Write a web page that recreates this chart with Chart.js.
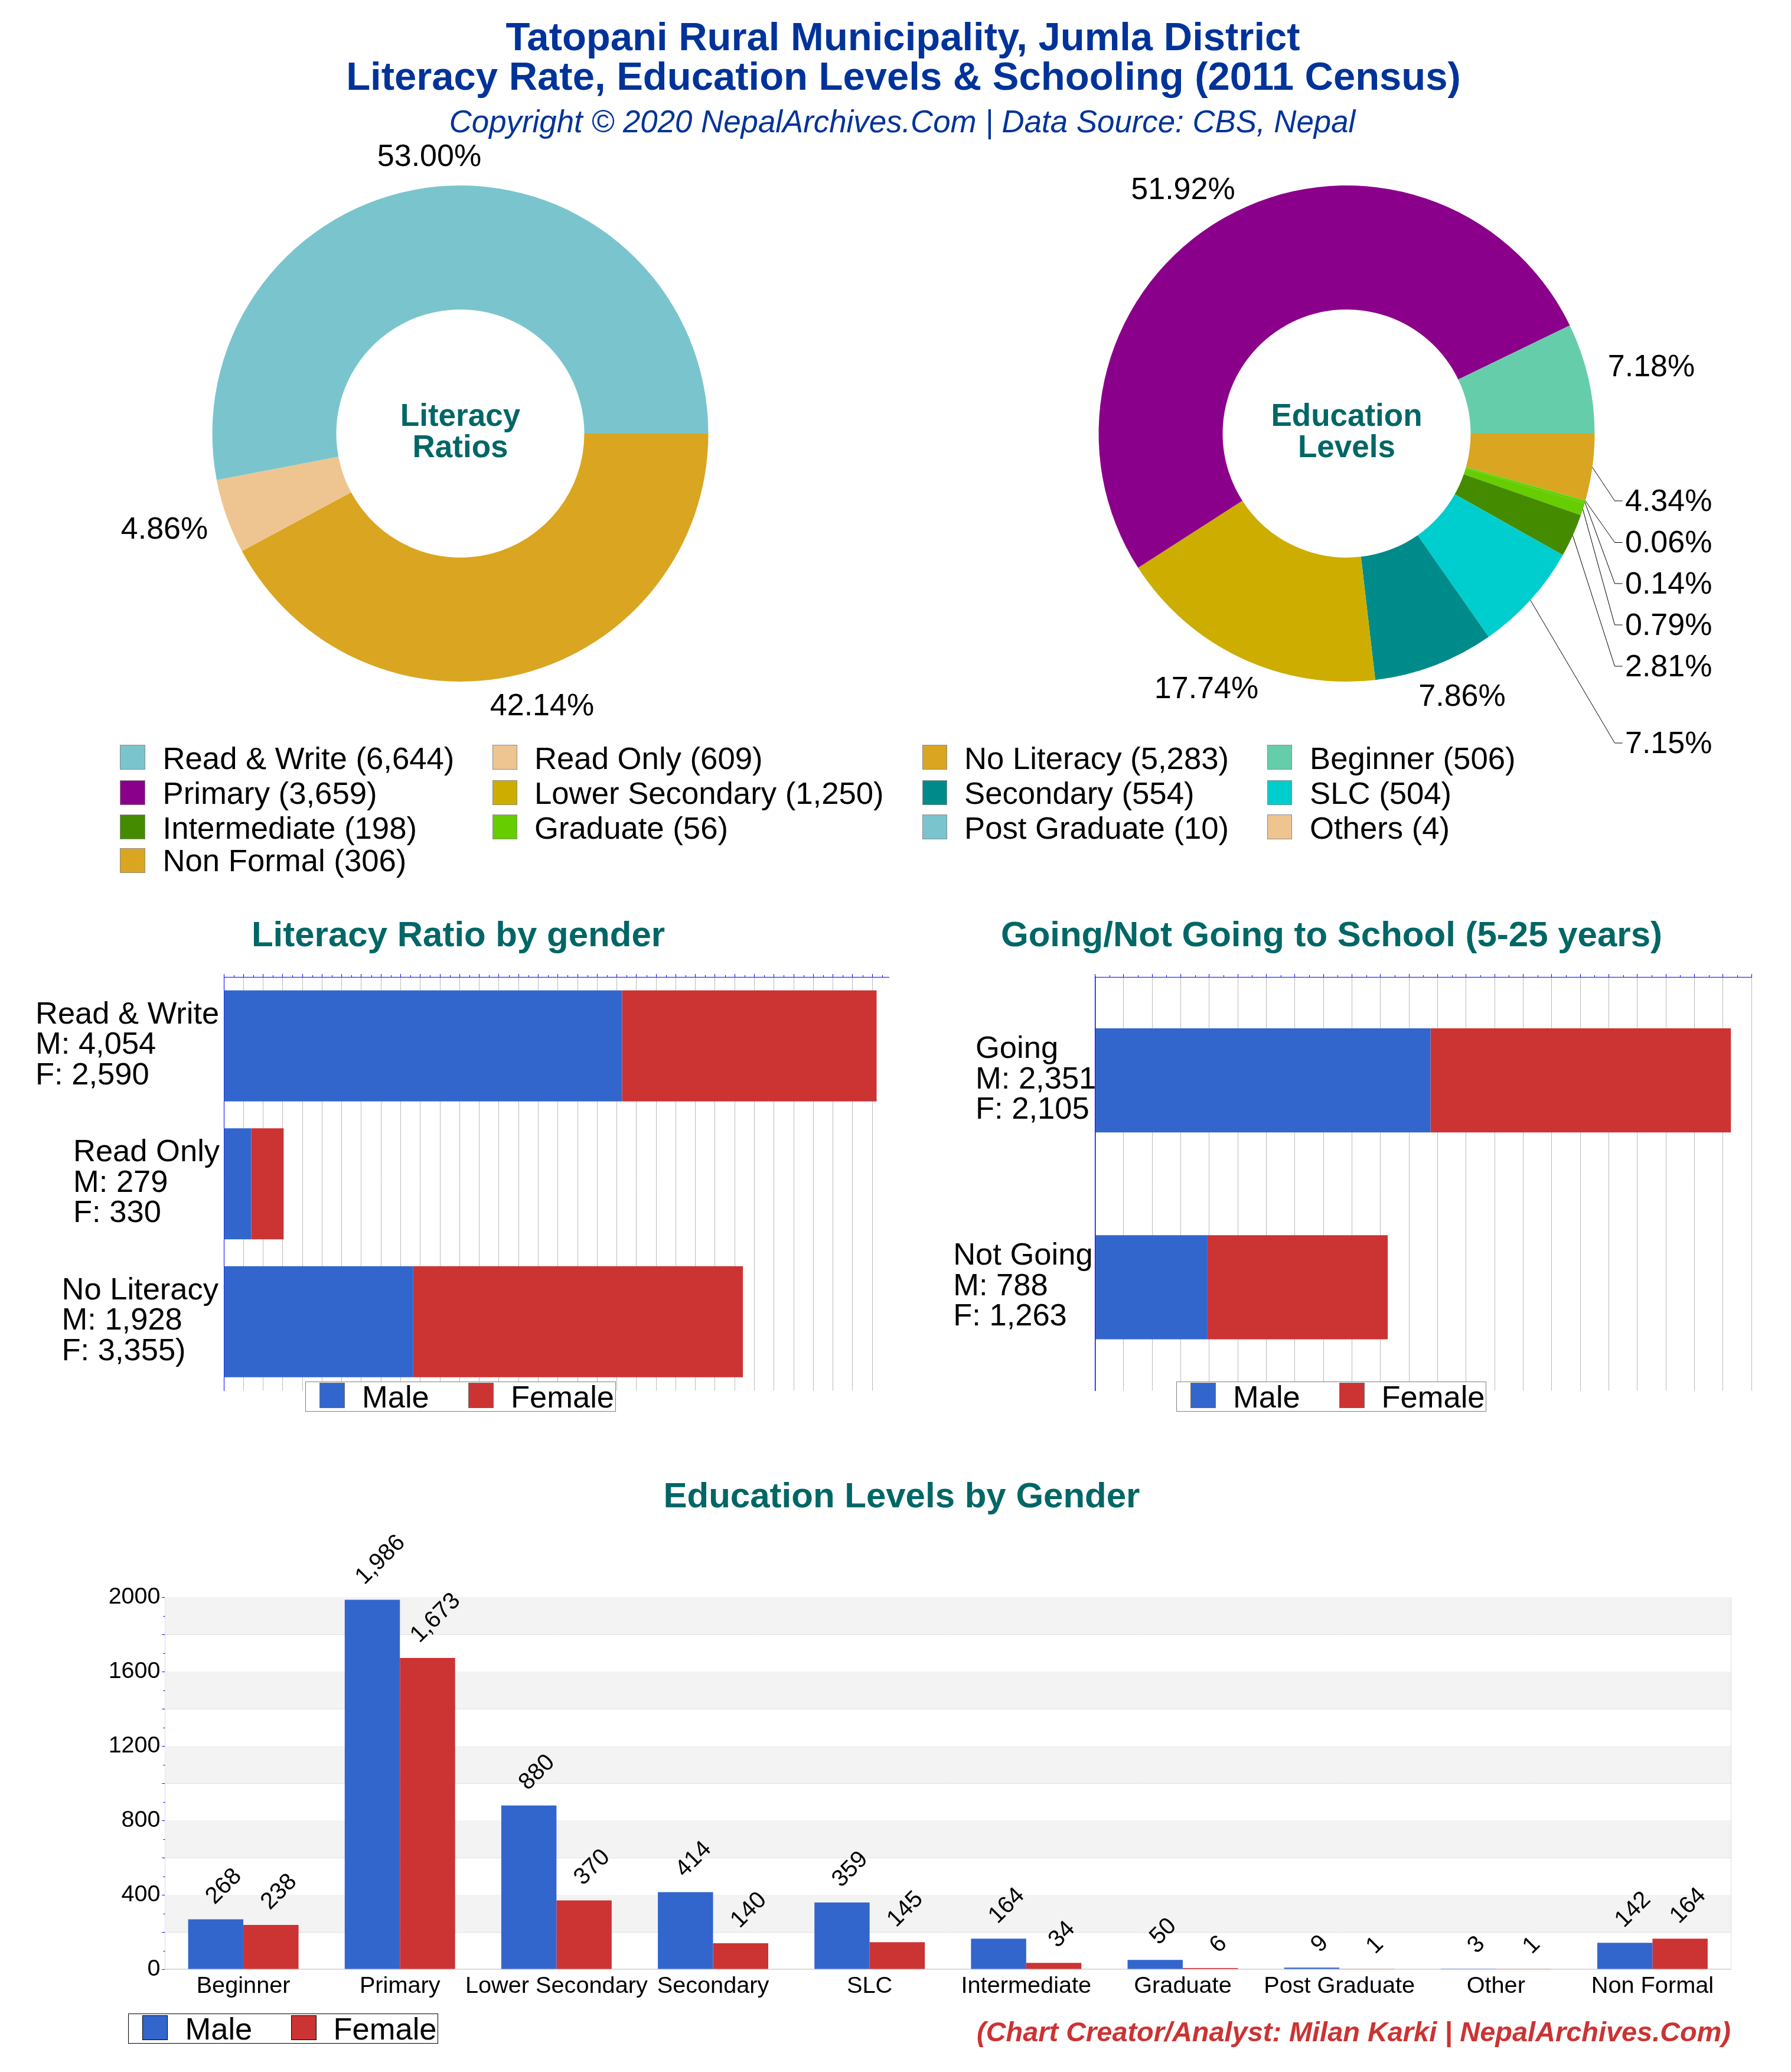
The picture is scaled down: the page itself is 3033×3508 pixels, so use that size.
<!DOCTYPE html>
<html><head><meta charset="utf-8">
<script src="https://cdn.jsdelivr.net/npm/chart.js@4"></script>
<style>
html,body{margin:0;padding:0;background:#fff}
#page{position:relative;width:3033px;height:3508px;overflow:hidden;background:#fff;font-family:'Liberation Sans',Arial,sans-serif}
canvas{position:absolute}
.t{position:absolute;white-space:nowrap;z-index:5}
.b{position:absolute;z-index:4}
</style></head><body><div id="page"></div>
<script>
// ---------- data ----------
const literacyCategories = ['Read & Write','Read Only','No Literacy'];
const literacyTotals = [6644,609,5283];
const literacyPercents = ['53.00%','4.86%','42.14%'];
const literacyMale = [4054,279,1928];
const literacyFemale = [2590,330,3355];
const literacyTickLabels = [['Read & Write','M: 4,054','F: 2,590'],['Read Only','M: 279','F: 330'],['No Literacy','M: 1,928','F: 3,355)']];

const educationCategories = ['Beginner','Primary','Lower Secondary','Secondary','SLC','Intermediate','Graduate','Post Graduate','Others','Non Formal'];
const educationTotals = [506,3659,1250,554,504,198,56,10,4,306];
const educationPercents = ['7.18%','51.92%','17.74%','7.86%','7.15%','2.81%','0.79%','0.14%','0.06%','4.34%'];

const schoolCategories = ['Going','Not Going'];
const schoolMale = [2351,788];
const schoolFemale = [2105,1263];
const schoolTickLabels = [['Going','M: 2,351','F: 2,105'],['Not Going','M: 788','F: 1,263']];

const genderCategories = ['Beginner','Primary','Lower Secondary','Secondary','SLC','Intermediate','Graduate','Post Graduate','Other','Non Formal'];
const genderMale = [268,1986,880,414,359,164,50,9,3,142];
const genderFemale = [238,1673,370,140,145,34,6,1,1,164];

// ---------- style ----------
const FONT = "'Liberation Sans', Arial, sans-serif";
const C = {male:'#3366CC',female:'#CC3333',title:'#003399',teal:'#006666',blue:'#0000FF',grid:'#BBBBBB'};
const literacyColors = ['#7AC5CD','#EEC591','#DAA520'];
const educationColors = ['#66CDAA','#8B008B','#CDAD00','#008B8B','#00CDCD','#458B00','#66CD00','#7AC5CD','#EEC591','#DAA520'];
// in the ring the two tiniest slices do not show their own colour: the green one covers them
const educationRingColors = ['#66CDAA','#8B008B','#CDAD00','#008B8B','#00CDCD','#458B00','#66CD00','#66CD00','#66CD00','#DAA520'];

const page = document.getElementById('page');
function text(s,o){
  const d=document.createElement('div');d.className='t';d.textContent=s;
  const lh=o.size*1.2;
  d.style.cssText+=`font-size:${o.size}px;line-height:${lh}px;top:${o.cy-lh/2}px;color:${o.color||'#000'};font-weight:${o.bold?'bold':'normal'};font-style:${o.italic?'italic':'normal'};`;
  if(o.center!==undefined){d.style.left=o.center+'px';d.style.transform='translateX(-50%)';}
  else if(o.right!==undefined){d.style.right=(3033-o.right)+'px';}
  else d.style.left=o.left+'px';
  page.appendChild(d);
}
function box(x0,y0,x1,y1,fill,border,bw){
  const d=document.createElement('div');d.className='b';
  d.style.cssText+=`left:${x0}px;top:${y0}px;width:${x1-x0}px;height:${y1-y0}px;background:${fill};box-sizing:border-box;border:${bw||1}px solid ${border};`;
  page.appendChild(d);return d;
}
function mkCanvas(l,t,w,h){
  const c=document.createElement('canvas');c.width=w;c.height=h;c.style.left=l+'px';c.style.top=t+'px';c.style.width=w+'px';c.style.height=h+'px';page.appendChild(c);return c.getContext('2d');
}

// ---------- titles ----------
text('Tatopani Rural Municipality, Jumla District',{size:67,bold:true,color:C.title,center:1529,cy:62});
text('Literacy Rate, Education Levels & Schooling (2011 Census)',{size:67,bold:true,color:C.title,center:1530,cy:129});
text('Copyright © 2020 NepalArchives.Com | Data Source: CBS, Nepal',{size:52.8,italic:true,color:C.title,center:1528,cy:206});
text('Literacy Ratio by gender',{size:60,bold:true,color:C.teal,center:776,cy:1582});
text('Going/Not Going to School (5-25 years)',{size:60,bold:true,color:C.teal,center:2255,cy:1582});
text('Education Levels by Gender',{size:60,bold:true,color:C.teal,center:1527,cy:2532});
text('(Chart Creator/Analyst: Milan Karki | NepalArchives.Com)',{size:46.9,bold:true,italic:true,color:C.female,right:2931,cy:3440});

// ---------- donut legend ----------
const legendItems = [];
literacyCategories.forEach((n,i)=>legendItems.push([n+' ('+literacyTotals[i].toLocaleString('en-US')+')',literacyColors[i]]));
educationCategories.forEach((n,i)=>legendItems.push([n+' ('+educationTotals[i].toLocaleString('en-US')+')',educationColors[i]]));
const legendCols = [[203,275.5],[833.5,905],[1561.5,1633],[2145.5,2218]];
const legendRows = [1282,1341.5,1400,1456.5];
const legendTextRows = [1283.5,1343,1401.5,1457];
legendItems.forEach((item,k)=>{
  const r=Math.floor(k/4),c=k%4,[sx,tx]=legendCols[c],cy=legendRows[r];
  box(sx,cy-21,sx+42.5,cy+21,item[1],'#8a8a8a');
  text(item[0],{size:52.7,left:tx,cy:legendTextRows[r]});
});

// ---------- plugins ----------
const donutPlugin = {
  id:'donutLabels',
  afterDraw(chart,args,o){
    const ctx=chart.ctx,meta=chart.getDatasetMeta(0),n=meta.data.length;
    ctx.save();
    ctx.font=`52px ${FONT}`;ctx.fillStyle='#000';ctx.textBaseline='alphabetic';
    o.texts.forEach((s,i)=>{
      const arc=meta.data[n-1-i],p=o.places[i];
      const mid=(arc.startAngle+arc.endAngle)/2;
      if(p.elbow){
        const x0=arc.x+arc.outerRadius*Math.cos(mid),y0=arc.y+arc.outerRadius*Math.sin(mid);
        ctx.strokeStyle='#000';ctx.lineWidth=1;ctx.beginPath();ctx.moveTo(x0,y0);
        ctx.lineTo(p.elbow-o.ox,p.y-o.oy);ctx.lineTo(p.elbow+13-o.ox,p.y-o.oy);ctx.stroke();
        ctx.textAlign='left';ctx.fillText(s,p.x-o.ox,p.y-o.oy+16.5);
      }else{
        ctx.textAlign='center';ctx.fillText(s,p.x-o.ox,p.y-o.oy+16.5);
      }
    });
    const a0=meta.data[0];
    ctx.font=`bold 53px ${FONT}`;ctx.fillStyle=C.teal;ctx.textAlign='center';
    ctx.fillText(o.center[0],a0.x,a0.y-30+16.5);
    ctx.fillText(o.center[1],a0.x,a0.y+23+16.5);
    ctx.restore();
  }
};
function donut(l,t,w,h,padL,padT,labels,totals,colors,texts,places,center){
  new Chart(mkCanvas(l,t,w,h),{
    type:'doughnut',
    data:{labels:[...labels].reverse(),datasets:[{data:[...totals].reverse(),backgroundColor:[...colors].reverse(),borderWidth:0}]},
    options:{responsive:false,animation:false,devicePixelRatio:1,cutout:'50%',rotation:90,
      layout:{padding:{left:padL,top:padT,right:w-padL-840,bottom:h-padT-840}},
      plugins:{legend:{display:false},tooltip:{enabled:false},donutLabels:{texts,places,center,ox:l,oy:t}}},
    plugins:[donutPlugin]
  });
}
donut(0,100,1516,1268,359.5,214,literacyCategories,literacyTotals,literacyColors,literacyPercents,
  [{x:727,y:264},{x:278.5,y:895},{x:918,y:1194}],['Literacy','Ratios']);
const ex=2752,elb=2734.5;
donut(1516,100,1517,1268,344.5,214,educationCategories,educationTotals,educationRingColors,educationPercents,
  [{x:2796.5,y:620},{x:2003.5,y:320},{x:2043,y:1165},{x:2476,y:1178},
   {x:ex,y:1258,elbow:elb},{x:ex,y:1128,elbow:elb},{x:ex,y:1058,elbow:elb},{x:ex,y:988,elbow:elb},{x:ex,y:918.5,elbow:elb},{x:ex,y:848,elbow:elb}],['Education','Levels']);

const stackLabelPlugin = {
  id:'stackLabels',
  afterDraw(chart,args,o){
    const ctx=chart.ctx,y=chart.scales.y,x=chart.scales.x;
    ctx.save();
    // minor tick marks on the value axis
    ctx.strokeStyle=C.blue;ctx.lineWidth=1;ctx.beginPath();
    for(let v=100;v<x.max;v+=200){const px=Math.round(x.getPixelForValue(v))+.5;ctx.moveTo(px,x.bottom-3);ctx.lineTo(px,x.bottom);}
    ctx.stroke();
    ctx.font=`52.5px ${FONT}`;ctx.fillStyle='#000';ctx.textAlign='left';ctx.textBaseline='alphabetic';
    o.lines.forEach((lines,i)=>{
      const c=y.getPixelForTick(i)-5;
      lines.forEach((s,k)=>ctx.fillText(s,o.lefts[i],c+(k-1)*51.5+18.5));
    });
    ctx.restore();
  }
};
function stacked(l,t,w,h,plotL,plotR,plotT,plotB,cats,male,female,max,barPct,lines,lefts,axisW){
  new Chart(mkCanvas(l,t,w,h),{
    type:'bar',
    data:{labels:cats,datasets:[
      {label:'Male',data:male,backgroundColor:C.male,barPercentage:barPct,categoryPercentage:1},
      {label:'Female',data:female,backgroundColor:C.female,barPercentage:barPct,categoryPercentage:1}]},
    options:{indexAxis:'y',responsive:false,animation:false,devicePixelRatio:1,
      layout:{padding:{left:0,top:0,right:w-(plotR-l),bottom:h-(plotB-t)}},
      scales:{
        x:{type:'linear',position:'top',stacked:true,min:0,max,
          ticks:{display:false,stepSize:200,includeBounds:false,autoSkip:false},
          afterBuildTicks(s){const a=[];for(let v=0;v<=s.max;v+=200)a.push({value:v});s.ticks=a;},
          grid:{color:C.grid,lineWidth:1,tickColor:C.blue,tickLength:5},
          border:{display:true,color:C.blue,width:1},
          afterFit(s){s.height=plotT-t;}},
        y:{stacked:true,ticks:{display:false},grid:{display:false},
          border:{display:true,color:C.blue,width:axisW},
          afterFit(s){s.width=plotL-l;}}
      },
      plugins:{legend:{display:false},tooltip:{enabled:false},stackLabels:{lines,lefts}}},
    plugins:[stackLabelPlugin]
  });
}
stacked(0,1600,1516,850,379,1505,1654,2354.5,literacyCategories,literacyMale,literacyFemale,6767,0.806,literacyTickLabels,[60,124,104.5],1);
stacked(1516,1600,1517,850,1854.5,2966,1654,2354.5,schoolCategories,schoolMale,schoolFemale,4600,0.503,schoolTickLabels,[136,98.2],1.5);

function genderLegend(x0,y0,x1,y1,border,sw,mt,fs,ft,swT,swB,size,cy,swBorder){
  box(x0,y0,x1,y1,'#fff',border);
  box(sw,swT,sw+43,swB,C.male,swBorder);
  box(fs,swT,fs+43,swB,C.female,swBorder);
  text('Male',{size,left:mt,cy});text('Female',{size,left:ft,cy});
}
genderLegend(517,2339,1042.5,2389.5,'#808080',541,613,793,865,2341,2384,52.5,2364,'#707070');
genderLegend(1992,2339,2517,2389.5,'#808080',2016,2088,2267.5,2339.5,2341,2384,52.5,2364,'#707070');
genderLegend(217,3409,742,3459.5,'#000',241,313.5,493,564.5,3411.5,3454,52.5,3434.5,'#000');

const barPlugin = {
  id:'barExtras',
  beforeDatasetsDraw(chart){
    const ctx=chart.ctx,y=chart.scales.y,a=chart.chartArea;
    ctx.save();ctx.fillStyle='#F3F3F3';
    for(let v=200;v<y.max;v+=400){
      const top=y.getPixelForValue(v+200),bot=y.getPixelForValue(v);
      ctx.fillRect(a.left,top,a.right-a.left,bot-top);
    }
    ctx.restore();
  },
  afterDatasetsDraw(chart){
    const ctx=chart.ctx,a=chart.chartArea,ys=chart.scales.y;
    ctx.save();
    ctx.strokeStyle='#DDDDDD';ctx.lineWidth=1;ctx.beginPath();
    ctx.moveTo(a.right+.5,a.top);ctx.lineTo(a.right+.5,a.bottom);ctx.stroke();
    ctx.strokeStyle=C.blue;ctx.beginPath();
    for(let v=100;v<ys.max;v+=200){const py=Math.round(ys.getPixelForValue(v))+.5;ctx.moveTo(a.left-3,py);ctx.lineTo(a.left,py);}
    ctx.stroke();
    ctx.font=`40px ${FONT}`;ctx.fillStyle='#000';ctx.textAlign='center';ctx.textBaseline='middle';
    chart.data.datasets.forEach((ds,di)=>{
      chart.getDatasetMeta(di).data.forEach((bar,i)=>{
        const s=ds.data[i].toLocaleString('en-US'),len=ctx.measureText(s).width;
        ctx.save();
        ctx.translate(bar.x+14,bar.y-32-len*0.707/2);
        ctx.rotate(-Math.PI/4);
        ctx.fillText(s,0,0);
        ctx.restore();
      });
    });
    ctx.restore();
  }
};
(function(){
  const l=0,t=2540,w=3033,h=920,pL=279.5,pR=2931,pT=2704,pB=3334;
  new Chart(mkCanvas(l,t,w,h),{
    type:'bar',
    data:{labels:genderCategories,datasets:[
      {label:'Male',data:genderMale,backgroundColor:C.male,barPercentage:1,categoryPercentage:0.705},
      {label:'Female',data:genderFemale,backgroundColor:C.female,barPercentage:1,categoryPercentage:0.705}]},
    options:{responsive:false,animation:false,devicePixelRatio:1,
      layout:{padding:{left:0,top:pT-t,right:w-pR,bottom:0}},
      scales:{
        x:{ticks:{color:'#000',font:{family:FONT,size:39.7},maxRotation:0,minRotation:0,autoSkip:false,padding:-3},
          grid:{display:false},border:{display:true,color:'#D8D8D8',width:1.5},
          afterFit(s){s.height=t+h-pB;}},
        y:{min:0,max:2000,
          ticks:{stepSize:200,autoSkip:false,color:'#000',font:{family:FONT,size:39.5},padding:3,
            callback:v=>v%400===0?String(v):''},
          grid:{color:'#E0E0E0',tickColor:C.blue,tickLength:5,lineWidth:1},
          border:{display:true,color:'#D8D8D8',width:1},
          afterFit(s){s.width=pL;}}
      },
      plugins:{legend:{display:false},tooltip:{enabled:false}}},
    plugins:[barPlugin]
  });
})();
</script></body></html>
